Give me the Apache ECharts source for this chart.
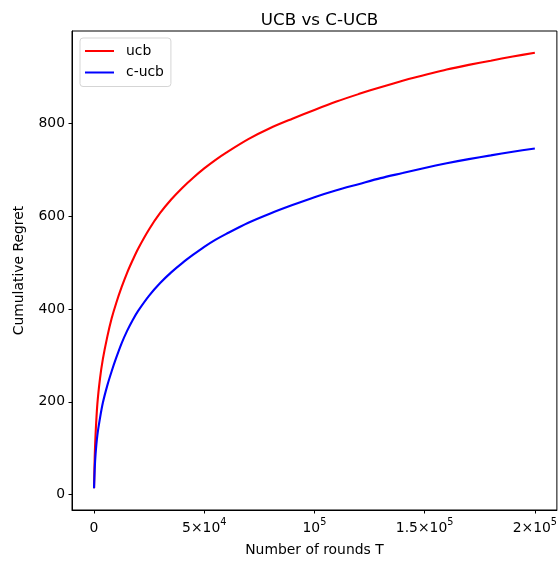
<!DOCTYPE html>
<html>
<head>
<meta charset="utf-8">
<script src="https://cdn.jsdelivr.net/npm/echarts@6/dist/echarts.min.js"></script>
<style>
  html, body { margin: 0; padding: 0; background: #fff; }
  #chart { width: 560px; height: 562px; }
</style>
</head>
<body>
<div id="chart"></div>
<script>
// Rounds at which the cumulative regret was recorded
const rounds = [0, 300, 700, 1500, 2700, 4000, 6000, 8000, 10000, 12500, 15000, 17500,
  20000, 25000, 30000, 35000, 40000, 45000, 50000, 55000, 60000, 70000, 80000, 90000,
  100000, 110000, 120000, 130000, 140000, 150000, 160000, 170000, 180000, 190000, 200000];
// Cumulative regret of plain UCB
const ucbRegret = [14, 80, 130, 195, 250, 292, 340, 380, 412, 447, 478, 505,
  530, 572, 607, 636, 661, 683, 703, 721, 737, 766, 790, 810,
  829, 847, 863, 878, 892, 904, 916, 926, 935, 944, 952];
// Cumulative regret of C-UCB
const cucbRegret = [14, 55, 88, 128, 165, 198, 235, 266, 294, 326, 353, 376,
  396, 429, 456, 479, 499, 517, 534, 549, 562, 586, 606, 624,
  641, 656, 669, 682, 693, 704, 714, 723, 731, 739, 746];
// Tick positions
const xTicks = [0, 50000, 100000, 150000, 200000];
const xTickLabels = ['{n|0}', '{n|5×10}{s|4}', '{n|10}{s|5}', '{n|1.5×10}{s|5}', '{n|2×10}{s|5}'];
const yTicks = [0, 200, 400, 600, 800];

const FONT = 'DejaVu Sans';
const chart = echarts.init(document.getElementById('chart'), null, { renderer: 'canvas' });

const pairs = (xs, ys) => xs.map((x, i) => [x, ys[i]]);

chart.setOption({
  animation: false,
  backgroundColor: '#fff',
  textStyle: { fontFamily: FONT },
  title: {
    text: 'UCB vs C-UCB',
    left: 314.5,
    top: 7,
    textAlign: 'center',
    textStyle: { fontFamily: FONT, fontSize: 16.7, fontWeight: 'normal', color: '#000' }
  },
  legend: {
    orient: 'vertical',
    left: 80,
    top: 38,
    padding: [6, 7, 7, 5],
    itemGap: 7.5,
    itemWidth: 29,
    itemHeight: 2,
    icon: 'rect',
    backgroundColor: '#fff',
    borderColor: '#d5d5d5',
    borderWidth: 1,
    borderRadius: 3,
    textStyle: { fontFamily: FONT, fontSize: 13.9, color: '#000', padding: [0, 0, 0, 7] },
    data: ['ucb', 'c-ucb']
  },
  grid: {
    left: 72, right: 3, top: 31, bottom: 50,
    show: true, borderColor: '#000', borderWidth: 1, backgroundColor: '#fff'
  },
  xAxis: {
    type: 'value',
    min: -10000,
    max: 210000,
    name: 'Number of rounds T',
    nameLocation: 'middle',
    nameGap: 33,
    nameTextStyle: { fontFamily: FONT, fontSize: 13.9, color: '#000' },
    axisLine: { show: true, onZero: false, lineStyle: { color: '#000', width: 1 } },
    axisTick: { show: true, inside: false, length: 3.5, customValues: xTicks, lineStyle: { color: '#000' } },
    axisLabel: {
      margin: 7,
      customValues: xTicks,
      formatter: (v) => xTickLabels[xTicks.indexOf(v)],
      rich: {
        n: { fontFamily: FONT, fontSize: 13.9, color: '#000', lineHeight: 18, verticalAlign: 'bottom' },
        s: { fontFamily: FONT, fontSize: 9.7, color: '#000', lineHeight: 18, verticalAlign: 'top', padding: [0, 0, 6, 0] }
      }
    },
    splitLine: { show: false }
  },
  yAxis: {
    type: 'value',
    min: -33,
    max: 999,
    name: 'Cumulative Regret',
    nameLocation: 'middle',
    nameGap: 46,
    nameTextStyle: { fontFamily: FONT, fontSize: 13.9, color: '#000' },
    axisLine: { show: true, onZero: false, lineStyle: { color: '#000', width: 1 } },
    axisTick: { show: true, inside: false, length: 3.5, customValues: yTicks, lineStyle: { color: '#000' } },
    axisLabel: { margin: 7, customValues: yTicks, fontFamily: FONT, fontSize: 13.9, color: '#000' },
    splitLine: { show: false }
  },
  series: [
    {
      name: 'ucb',
      type: 'line',
      data: pairs(rounds, ucbRegret),
      showSymbol: false,
      symbol: 'none',
      smooth: 0.3,
      lineStyle: { color: '#ff0000', width: 2.1 },
      itemStyle: { color: '#ff0000' }
    },
    {
      name: 'c-ucb',
      type: 'line',
      data: pairs(rounds, cucbRegret),
      showSymbol: false,
      symbol: 'none',
      smooth: 0.3,
      lineStyle: { color: '#0000ff', width: 2.1 },
      itemStyle: { color: '#0000ff' }
    }
  ]
});
</script>
</body>
</html>
